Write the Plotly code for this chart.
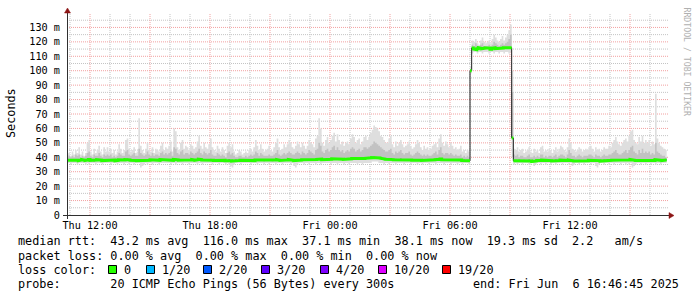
import plotly.graph_objects as go
import pandas as pd

# ---------------- data (5-minute steps, first sample Thu 10:50) ----------------
FIRST_SAMPLE = "2025-06-05 10:50:00"
STEP = "5min"
X_RANGE = ["2025-06-05 10:51:00", "2025-06-06 16:51:00"]

median_ms = [
    38.0,37.8,38.1,38.3,37.9,38.2,38.0,37.7,38.1,38.4,38.0,37.8,
    38.2,38.5,37.9,38.0,37.6,38.1,38.3,37.9,38.0,37.7,38.2,38.1,
    37.8,38.0,38.2,37.9,38.1,37.6,37.9,38.3,38.0,37.8,38.1,38.4,
    38.6,38.2,37.9,38.0,38.3,37.8,37.7,38.1,37.9,38.2,38.0,37.8,
    38.1,37.9,38.3,38.0,37.8,38.2,38.1,37.9,38.4,38.2,37.9,38.0,
    38.2,38.4,38.1,37.9,38.5,38.6,38.2,38.0,38.3,38.1,37.9,38.2,
    38.3,38.0,38.2,38.5,38.1,37.9,38.3,38.7,38.4,38.1,38.2,38.0,
    38.1,38.3,38.5,38.0,37.8,37.9,38.2,38.0,37.7,38.1,37.9,37.6,
    37.8,38.0,37.6,37.4,37.7,37.9,37.6,37.8,38.0,37.7,37.5,37.9,
    37.8,37.6,38.0,37.9,37.7,38.2,38.0,37.8,38.1,37.9,37.7,38.0,
    37.9,38.1,37.8,37.7,38.0,38.2,38.4,38.0,37.8,37.9,38.1,38.0,
    38.2,38.4,38.1,37.9,37.7,37.6,37.8,38.0,38.1,38.3,38.0,37.9,
    38.0,38.3,38.1,38.2,37.9,38.4,38.6,39.0,38.8,38.3,38.1,38.2,
    38.5,38.3,38.6,38.9,39.1,38.7,39.0,38.8,38.6,38.7,38.5,38.6,
    38.8,38.6,38.9,39.2,39.0,38.7,38.9,39.1,38.8,38.9,39.2,39.3,
    39.2,39.4,39.6,39.8,40.0,39.9,39.7,39.5,39.3,39.0,38.8,38.6,
    38.5,38.7,38.9,38.4,38.2,38.5,38.3,38.4,38.6,38.3,38.1,38.2,
    38.3,38.4,38.1,37.9,38.0,38.2,38.4,38.2,38.0,37.8,38.1,37.9,
    38.0,37.8,37.9,38.1,38.3,38.4,38.1,38.6,38.8,38.2,38.0,38.3,
    38.2,38.0,38.3,38.1,37.9,38.0,37.8,37.9,38.1,37.7,37.9,37.6,
    37.8,37.6,100.0,115.8,115.0,114.6,115.3,116.0,115.5,115.2,115.6,115.9,
    115.4,115.7,114.8,115.5,115.9,115.3,115.6,115.8,115.4,115.7,115.9,116.0,
    115.8,115.5,115.9,53.4,37.6,37.8,37.5,37.9,37.7,37.6,37.8,37.4,
    37.7,37.9,37.5,37.1,37.6,37.5,37.8,37.4,37.9,38.0,37.6,37.5,
    37.6,37.8,37.7,37.4,37.6,37.9,37.5,37.7,38.0,37.8,37.6,37.5,
    37.8,38.1,37.9,37.6,37.5,37.3,37.6,37.8,37.7,37.4,37.6,37.5,
    37.6,37.9,38.0,37.7,37.5,37.8,37.6,37.7,37.4,37.6,37.9,37.7,
    37.6,37.8,37.9,38.0,38.2,38.3,38.1,37.9,37.8,38.0,38.1,38.2,
    38.0,38.2,38.4,38.3,37.9,37.8,37.7,38.1,37.9,38.2,37.8,38.0,
    37.9,38.1,37.8,38.0,37.7,38.3,38.1,37.9,37.8,37.7,37.9,38.1,
]

smoke_lo = [
    36,36,35,36,36,36,35,36,36,36,36,35,
    36,35,36,36,36,35,36,36,36,35,36,36,
    36,36,35,36,36,36,35,36,36,36,35,36,
    36,35,36,36,35,36,36,36,33,34,35,36,
    35,36,36,35,36,36,36,35,36,36,36,36,
    36,36,35,36,36,35,36,36,36,35,36,36,
    36,35,36,36,36,36,35,36,36,35,36,36,
    36,36,36,35,36,36,36,35,36,36,36,35,
    36,35,34,33,35,36,36,36,35,36,36,36,
    36,36,35,36,36,36,35,36,36,36,35,36,
    36,35,36,36,36,35,36,36,36,35,36,36,
    36,36,35,36,34,33,35,36,36,36,35,36,
    36,35,36,36,36,35,36,36,35,36,36,36,
    36,36,35,36,36,36,35,36,36,36,35,36,
    36,35,36,36,36,36,35,36,36,35,36,36,
    36,36,36,37,37,37,37,36,36,36,35,36,
    36,35,36,36,36,35,36,36,36,36,35,36,
    36,36,35,36,36,36,35,36,36,35,36,36,
    36,35,36,36,36,35,36,36,36,36,35,36,
    36,36,35,36,36,36,35,36,36,35,36,36,
    36,35,98,112,113,113,112,113,113,112,113,113,
    113,112,113,113,112,113,113,112,113,113,112,113,
    113,112,113,40,35,36,35,36,36,35,36,36,
    36,35,36,36,34,35,36,36,35,36,36,35,
    36,36,35,36,36,35,36,36,36,35,36,36,
    36,35,36,34,35,36,36,35,36,36,35,36,
    36,36,35,36,36,34,33,35,36,36,35,36,
    36,35,36,36,35,36,36,36,35,36,36,35,
    36,35,36,33,34,35,36,36,35,36,36,35,
    36,36,35,36,36,35,36,36,35,36,36,36,
]

smoke_hi = [
    42,43,41,44,42,45,43,47,42,44,41,43,
    50,52,44,42,46,43,45,48,44,42,47,44,
    47,44,46,43,45,42,44,49,46,43,45,52,
    53,46,44,45,47,43,44,67,48,45,43,46,
    50,45,44,47,43,46,45,44,48,50,45,47,
    46,48,51,44,60,58,47,45,50,52,46,48,
    47,45,49,48,46,47,51,55,48,46,50,47,
    46,49,53,47,45,44,48,46,44,47,45,43,
    48,50,47,49,44,42,43,45,44,42,43,44,
    43,45,46,44,47,52,48,45,49,46,44,45,
    46,48,45,44,47,50,53,47,45,46,49,47,
    49,52,50,47,46,48,51,49,47,50,48,46,
    48,52,50,49,47,53,55,67,60,50,48,52,
    54,50,52,55,57,51,56,52,49,51,48,50,
    51,49,53,56,54,50,52,53,49,51,54,55,
    52,54,57,59,62,61,60,58,55,54,52,50,
    50,53,55,49,47,51,48,50,52,49,47,48,
    49,51,48,46,47,49,52,50,47,45,48,46,
    47,45,46,48,49,50,47,53,56,50,48,51,
    49,47,50,48,46,47,45,46,48,44,45,43,
    45,44,103,121,120,122,119,118,121,123,120,119,
    120,121,119,122,125,123,121,120,122,124,121,123,
    125,128,132,100,46,45,47,44,45,46,43,44,
    45,47,44,43,46,44,45,43,47,48,44,45,
    44,46,45,43,45,47,44,46,48,47,45,44,
    47,53,50,46,45,44,45,47,46,44,45,46,
    45,47,48,46,44,47,45,46,44,45,47,46,
    46,48,47,50,52,54,51,49,48,50,52,53,
    51,55,58,59,52,50,49,54,51,55,50,52,
    50,52,48,51,49,84,53,50,48,47,46,45,
]

smoke_mid = [
    40,41,40,41,40,42,41,42,40,41,40,41,
    43,44,41,40,42,41,41,43,41,40,42,41,
    42,41,42,40,41,40,41,43,42,41,41,44,
    45,42,41,42,43,41,41,46,43,42,41,42,
    44,42,41,43,41,42,42,41,43,44,42,43,
    42,43,44,41,47,46,43,42,44,45,42,43,
    43,42,44,43,42,43,44,46,43,42,44,43,
    42,43,45,42,41,41,43,42,41,42,41,40,
    43,44,42,43,41,40,40,41,41,40,40,41,
    40,41,42,41,42,44,43,41,43,42,41,41,
    41,42,41,41,42,43,45,42,41,42,43,42,
    43,44,43,42,42,43,44,43,42,44,43,42,
    43,45,44,43,42,45,46,50,48,44,43,45,
    46,44,45,47,48,45,47,45,44,45,43,44,
    45,44,46,47,46,44,45,46,44,45,47,47,
    46,47,48,49,51,50,49,48,47,46,45,44,
    44,45,46,43,42,44,43,44,45,43,42,43,
    43,44,42,41,42,43,44,43,42,41,42,41,
    42,41,41,42,43,44,42,45,47,43,42,43,
    43,42,43,42,41,42,41,41,42,40,41,40,
    41,40,101,118,117,119,117,117,118,119,117,117,
    117,118,117,118,120,119,118,117,118,119,118,119,
    120,122,125,85,42,41,42,40,41,41,40,40,
    41,42,40,40,41,40,41,40,42,42,40,41,
    40,41,41,40,41,42,40,41,42,42,41,40,
    42,45,43,41,41,40,41,42,41,40,41,41,
    41,42,42,41,40,42,41,41,40,41,42,41,
    41,42,42,43,44,45,43,42,42,43,44,45,
    43,45,47,48,44,43,42,45,43,46,43,44,
    43,44,42,43,42,50,44,43,42,41,41,40,
]

y_tick_values = [0, 10, 20, 30, 40, 50, 60, 70, 80, 90, 100, 110, 120, 130]
y_tick_labels = ["0", "10 m", "20 m", "30 m", "40 m", "50 m", "60 m", "70 m",
                 "80 m", "90 m", "100 m", "110 m", "120 m", "130 m"]
x_tick_values = ["2025-06-05 12:00", "2025-06-05 18:00", "2025-06-06 00:00",
                 "2025-06-06 06:00", "2025-06-06 12:00"]
x_tick_labels = ["Thu 12:00", "Thu 18:00", "Fri 00:00", "Fri 06:00", "Fri 12:00"]

loss_labels = ["0", "1/20", "2/20", "3/20", "4/20", "10/20", "19/20"]
loss_colors = ["#26ff00", "#00b8ff", "#0059ff", "#5e00ff", "#7e00ff", "#dd00ff", "#ff0000"]

legend_line1 = "median rtt:  43.2 ms avg  116.0 ms max  37.1 ms min  38.1 ms now  19.3 ms sd  2.2   am/s"
legend_line2 = "packet loss: 0.00 % avg  0.00 % max  0.00 % min  0.00 % now"
legend_line3 = "loss color:"
legend_probe = "probe:       20 ICMP Echo Pings (56 Bytes) every 300s"
legend_end = "end: Fri Jun  6 16:46:45 2025"

# ---------------- layout geometry ----------------
W, H = 697, 297
ML, MR, MT, MB = 67, 30, 13, 82
PW, PH = W - ML - MR, H - MT - MB
Y_BOTTOM = H - MB
MONO = "DejaVu Sans Mono"


def px(x):
    return (x - ML) / PW


def py(y):
    return (Y_BOTTOM - y) / PH


def nb(s):
    return s.replace(" ", "\u00a0")


edges = pd.date_range(FIRST_SAMPLE, periods=len(median_ms) + 1, freq=STEP)


def ext(a):
    return list(a) + [a[-1]]


fig = go.Figure()

# smoke: light outer band
fig.add_trace(go.Scatter(x=edges, y=ext(smoke_lo), mode="lines",
                         line=dict(width=0, shape="hv"), hoverinfo="skip", showlegend=False))
fig.add_trace(go.Scatter(x=edges, y=ext(smoke_hi), mode="lines", fill="tonexty",
                         fillcolor="#dedede", line=dict(width=0, shape="hv"),
                         hoverinfo="skip", showlegend=False))
# smoke: darker inner band
fig.add_trace(go.Scatter(x=edges, y=ext(median_ms), mode="lines",
                         line=dict(width=0, shape="hv"), hoverinfo="skip", showlegend=False))
fig.add_trace(go.Scatter(x=edges, y=ext(smoke_mid), mode="lines", fill="tonexty",
                         fillcolor="#c2c2c2", line=dict(width=0, shape="hv"),
                         hoverinfo="skip", showlegend=False))
# median dark line
fig.add_trace(go.Scatter(x=edges, y=ext(median_ms), mode="lines",
                         line=dict(width=1, color="#202020", shape="hv"),
                         hoverinfo="skip", showlegend=False))
# loss-coloured median (0 loss -> green), broken at jumps
gx, gy = [], []
for i, v in enumerate(median_ms):
    if i > 0 and abs(v - median_ms[i - 1]) > 3:
        gx.append(None)
        gy.append(None)
    gx += [edges[i], edges[i + 1]]
    gy += [v, v]
fig.add_trace(go.Scatter(x=gx, y=gy, mode="lines", connectgaps=False,
                         line=dict(width=3, color=loss_colors[0]),
                         hoverinfo="skip", showlegend=False))

shapes = []
# horizontal grid
for v in range(5, 140, 5):
    major = v % 10 == 0
    shapes.append(dict(type="line", xref="paper", yref="y", x0=0, x1=px(669), y0=v, y1=v,
                       line=dict(color="#f2a0a0" if major else "#c4c4c4", width=1, dash="1px,1px"),
                       layer="below"))
# vertical grid
for h in pd.date_range("2025-06-05 11:00", "2025-06-06 16:00", freq="1h"):
    major = h.hour % 3 == 0
    shapes.append(dict(type="line", xref="x", yref="paper", x0=h, x1=h, y0=0, y1=1,
                       line=dict(color="#f2a0a0" if major else "#c4c4c4", width=1, dash="1px,1px"),
                       layer="below"))
# axes
AX = "#303030"
shapes.append(dict(type="line", xref="paper", yref="paper", x0=px(63), x1=px(670),
                   y0=py(215.5), y1=py(215.5), line=dict(color=AX, width=1)))
shapes.append(dict(type="line", xref="paper", yref="paper", x0=px(67.5), x1=px(67.5),
                   y0=py(219), y1=py(11), line=dict(color=AX, width=1)))
ARROW = "#8c1515"
shapes.append(dict(type="path", xref="paper", yref="paper",
                   path=f"M {px(669)},{py(212.5)} L {px(674)},{py(215.5)} L {px(669)},{py(218.5)} Z",
                   fillcolor=ARROW, line=dict(color=ARROW, width=0.5)))
shapes.append(dict(type="path", xref="paper", yref="paper",
                   path=f"M {px(64.5)},{py(13)} L {px(67.5)},{py(8)} L {px(70.5)},{py(13)} Z",
                   fillcolor=ARROW, line=dict(color=ARROW, width=0.5)))

annotations = []
LEG_FONT = dict(family=MONO, size=11.8, color="#000000")
annotations.append(dict(text=nb(legend_line1), x=px(15.5), y=py(241.5), xref="paper", yref="paper",
                        xanchor="left", yanchor="middle", showarrow=False, font=LEG_FONT))
annotations.append(dict(text=nb(legend_line2), x=px(15.5), y=py(255.5), xref="paper", yref="paper",
                        xanchor="left", yanchor="middle", showarrow=False, font=LEG_FONT))
annotations.append(dict(text=nb(legend_line3), x=px(15.5), y=py(269.5), xref="paper", yref="paper",
                        xanchor="left", yanchor="middle", showarrow=False, font=LEG_FONT))
annotations.append(dict(text=nb(legend_probe), x=px(15.5), y=py(283.5), xref="paper", yref="paper",
                        xanchor="left", yanchor="middle", showarrow=False, font=LEG_FONT))
annotations.append(dict(text=nb(legend_end), x=px(681), y=py(283.5), xref="paper", yref="paper",
                        xanchor="right", yanchor="middle", showarrow=False, font=LEG_FONT))

box_left = [108, 146, 203, 261, 320, 378, 442]
for bx, lab, col in zip(box_left, loss_labels, loss_colors):
    shapes.append(dict(type="rect", xref="paper", yref="paper",
                       x0=px(bx + 0.5), x1=px(bx + 8.5), y0=py(273.5), y1=py(265.5),
                       fillcolor=col, line=dict(color="#000000", width=1)))
    annotations.append(dict(text=nb(lab), x=px(bx + 14), y=py(269.5), xref="paper", yref="paper",
                            xanchor="left", yanchor="middle", showarrow=False, font=LEG_FONT))

annotations.append(dict(text="Seconds", x=px(11), y=py(113), xref="paper", yref="paper",
                        textangle=-90, xanchor="center", yanchor="middle", showarrow=False,
                        font=dict(family=MONO, size=11.8, color="#000000")))
annotations.append(dict(text=nb("RRDTOOL / TOBI OETIKER"), x=px(686), y=py(5), xref="paper", yref="paper",
                        textangle=90, xanchor="center", yanchor="top", showarrow=False,
                        font=dict(family=MONO, size=8.2, color="#b0b0b0")))

fig.update_layout(
    width=W, height=H, autosize=False,
    margin=dict(l=ML, r=MR, t=MT, b=MB, pad=0),
    paper_bgcolor="#ffffff", plot_bgcolor="#ffffff",
    showlegend=False,
    shapes=shapes, annotations=annotations,
    xaxis=dict(type="date", range=X_RANGE, showgrid=False, zeroline=False, showline=False,
               tickmode="array", tickvals=x_tick_values, ticktext=x_tick_labels,
               ticks="", ticklabelstandoff=3,
               tickfont=dict(family=MONO, size=10.2, color="#000000")),
    yaxis=dict(range=[0, 140], showgrid=False, zeroline=False, showline=False,
               tickmode="array", tickvals=y_tick_values, ticktext=y_tick_labels,
               ticks="", ticklabelstandoff=6,
               tickfont=dict(family=MONO, size=10.2, color="#000000")),
)

fig.write_html("out.html")
